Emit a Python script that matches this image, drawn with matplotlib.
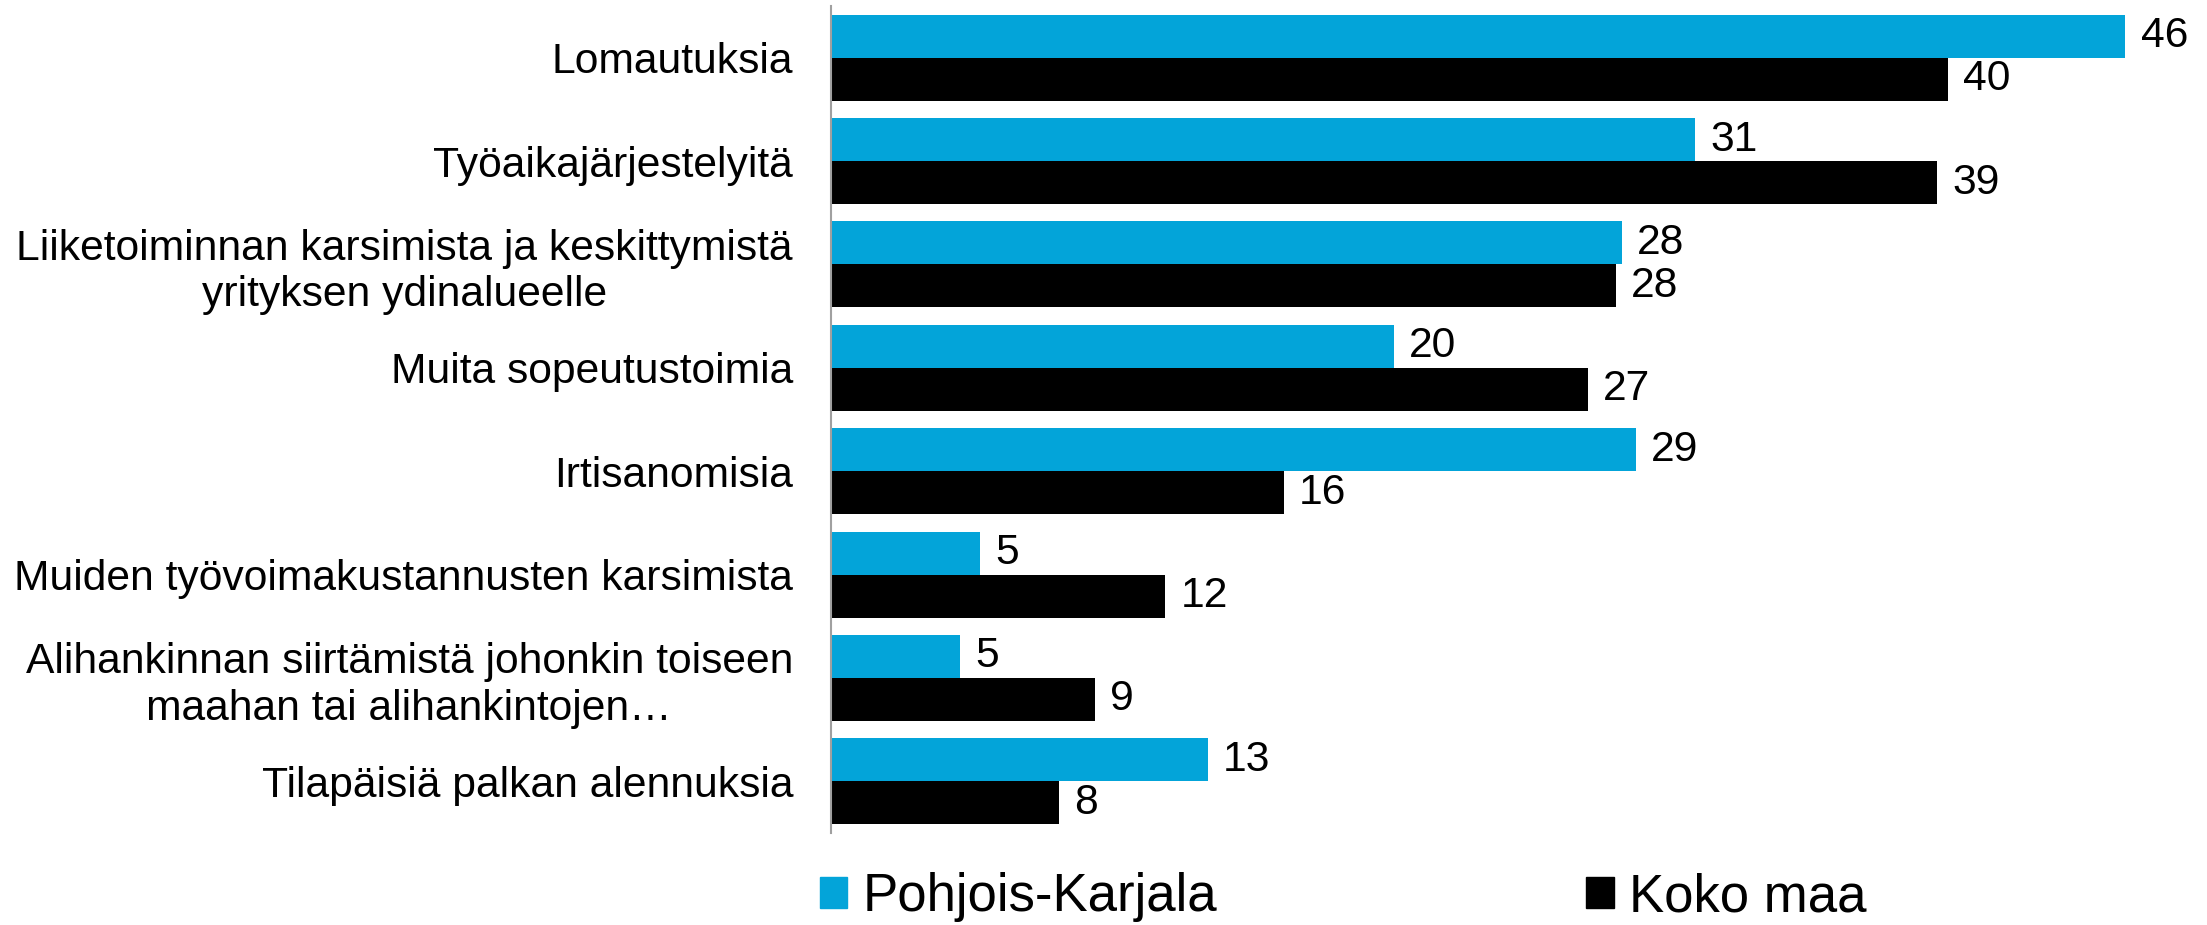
import numpy as np
import matplotlib.pyplot as plt
from matplotlib.patches import Patch

plt.rcParams['font.family'] = ['Liberation Sans', 'DejaVu Sans']

# Categories (top to bottom)
categories = [
    'Lomautuksia',
    'Työaikajärjestelyitä',
    'Liiketoiminnan karsimista ja keskittymistä\nyrityksen ydinalueelle',
    'Muita sopeutustoimia',
    'Irtisanomisia',
    'Muiden työvoimakustannusten karsimista',
    'Alihankinnan siirtämistä johonkin toiseen\nmaahan tai alihankintojen…',
    'Tilapäisiä palkan alennuksia',
]

# Values (labels are rounded)
pohjois_karjala = [46.0, 30.7, 28.1, 20.0, 28.6, 5.3, 4.6, 13.4]
koko_maa = [39.7, 39.3, 27.9, 26.9, 16.1, 11.9, 9.4, 8.1]

series_names = ['Pohjois-Karjala', 'Koko maa']
colors = ['#03A4D9', '#000000']

fig = plt.figure(figsize=(22.07, 9.25), dpi=100)
ax = fig.add_axes([830.5 / 2207, 1 - 833 / 925, 48 * 28.15 / 2207, 827 / 925])

y = np.arange(len(categories))
h = 0.416
bars1 = ax.barh(y - h / 2, pohjois_karjala, height=h, color=colors[0])
bars2 = ax.barh(y + h / 2, koko_maa, height=h, color=colors[1])

# data labels
for bars, vals in [(bars1, pohjois_karjala), (bars2, koko_maa)]:
    for b, v in zip(bars, vals):
        ax.annotate(f'{v:.0f}', (b.get_width(), b.get_y() + b.get_height() / 2),
                    xytext=(11, 0), textcoords='offset points',
                    va='center', ha='left', fontsize=30.7)

ax.set_xlim(0, 48)
ax.set_ylim(len(categories) - 0.5, -0.5)
ax.set_yticks(y)
ax.set_yticklabels(categories, fontsize=30.7, ha='right', multialignment='center')
ax.tick_params(axis='y', length=0, pad=27)
ax.set_xticks([])

for s in ['top', 'right', 'bottom']:
    ax.spines[s].set_visible(False)
ax.spines['left'].set_color('#A0A0A0')
ax.spines['left'].set_linewidth(1.5)

handles = [Patch(color=c) for c in colors]
fig.legend(handles, series_names, loc='center left', ncol=2,
           bbox_to_anchor=(820 / 2207, 1 - 897 / 925), frameon=False,
           fontsize=38, handlelength=0.52, handleheight=0.52,
           handletextpad=0.28, columnspacing=7.0, borderpad=0, borderaxespad=0)

fig.savefig('out.png', dpi=100)
